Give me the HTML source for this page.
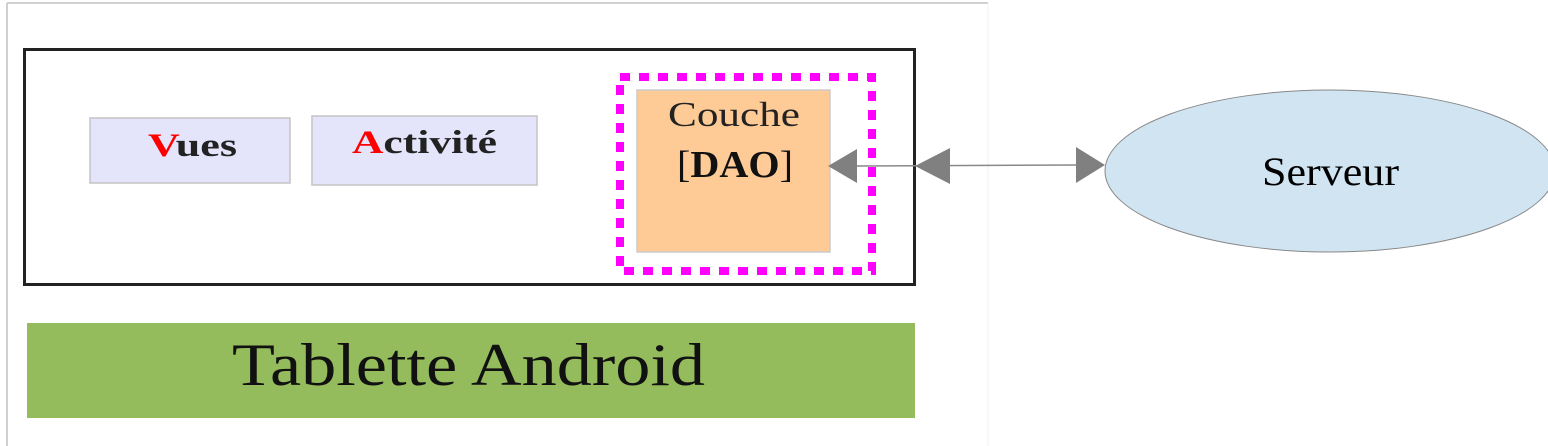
<!DOCTYPE html>
<html><head><meta charset="utf-8"><style>body{margin:0;background:#fff}svg{display:block}</style></head>
<body>
<svg width="1548" height="446" viewBox="0 0 1548 446" xmlns="http://www.w3.org/2000/svg">
<rect x="0" y="0" width="1548" height="446" fill="#fff"/>
<line x1="7" y1="3" x2="7" y2="446" stroke="#d0d0d0" stroke-width="2"/>
<line x1="7" y1="3" x2="988" y2="3" stroke="#d0d0d0" stroke-width="2"/>
<line x1="988" y1="3" x2="988" y2="446" stroke="#f0f0f0" stroke-width="1"/>
<rect x="24.5" y="49.5" width="890" height="235" fill="#fff" stroke="#222" stroke-width="3"/>
<rect x="90" y="118" width="200" height="65" fill="#e4e4fb" stroke="#c4c4c4" stroke-width="1.5"/>
<rect x="312" y="116" width="225" height="69" fill="#e4e4fb" stroke="#c4c4c4" stroke-width="1.5"/>
<text x="148" y="156" textLength="89" lengthAdjust="spacingAndGlyphs" font-family="Liberation Serif,serif" font-weight="bold" font-size="33" fill="#222"><tspan fill="#f00">V</tspan>ues</text>
<text x="352" y="153" textLength="145" lengthAdjust="spacingAndGlyphs" font-family="Liberation Serif,serif" font-weight="bold" font-size="33" fill="#222"><tspan fill="#f00">A</tspan>ctivité</text>
<rect x="637" y="90" width="193" height="162" fill="#fecb96" stroke="#ccc" stroke-width="1.5"/>
<text x="668" y="126" textLength="132" lengthAdjust="spacingAndGlyphs" font-family="Liberation Serif,serif" font-size="35" fill="#222">Couche</text>
<text x="677" y="177" textLength="116" lengthAdjust="spacingAndGlyphs" font-family="Liberation Serif,serif" font-size="38" fill="#111">[<tspan font-weight="bold">DAO</tspan>]</text>
<rect x="620" y="77" width="252" height="194" fill="none" stroke="#ff00ff" stroke-width="8" stroke-dasharray="10 9"/>
<line x1="855" y1="166" x2="1080" y2="165" stroke="#888" stroke-width="1.5"/>
<polygon points="828,166 857,149 857,183" fill="#808080"/>
<polygon points="915,166 950,148 950,184" fill="#808080"/>
<polygon points="1105,165 1076,147 1076,183" fill="#808080"/>
<ellipse cx="1330" cy="171" rx="225" ry="81" fill="#d0e4f2" stroke="#888" stroke-width="1"/>
<text x="1262" y="185" textLength="137" lengthAdjust="spacingAndGlyphs" font-family="Liberation Serif,serif" font-size="40" fill="#000">Serveur</text>
<rect x="27" y="323" width="888" height="95" fill="#94bb5c"/>
<text x="232" y="385" textLength="473" lengthAdjust="spacingAndGlyphs" font-family="Liberation Serif,serif" font-size="60" fill="#111">Tablette Android</text>
</svg>
</body></html>
